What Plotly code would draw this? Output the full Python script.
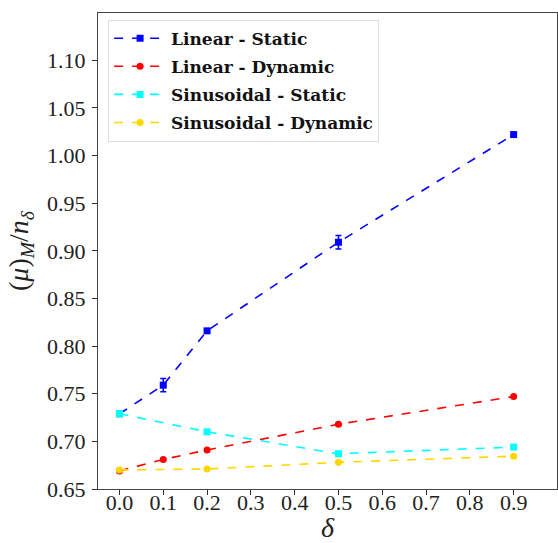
import plotly.graph_objects as go

delta = [0.0, 0.1, 0.2, 0.5, 0.9]
sin_delta = [0.0, 0.2, 0.5, 0.9]

lin_static = [0.729, 0.759, 0.816, 0.909, 1.022]
lin_static_err = [0.002, 0.007, 0.002, 0.007, 0.002]

lin_dynamic = [0.669, 0.681, 0.691, 0.718, 0.747]
lin_dynamic_err = [0.001, 0.001, 0.001, 0.001, 0.001]

sin_static = [0.729, 0.710, 0.687, 0.694]
sin_static_err = [0.003, 0.001, 0.001, 0.001]

sin_dynamic = [0.670, 0.671, 0.678, 0.6845]
sin_dynamic_err = [0.001, 0.001, 0.001, 0.001]

x_ticks = [0.0, 0.1, 0.2, 0.3, 0.4, 0.5, 0.6, 0.7, 0.8, 0.9]
y_ticks = [0.65, 0.70, 0.75, 0.80, 0.85, 0.90, 0.95, 1.00, 1.05, 1.10]

series = [
    ("<b>Linear - Static</b>", delta, lin_static, lin_static_err, "#0000FF", "square"),
    ("<b>Linear - Dynamic</b>", delta, lin_dynamic, lin_dynamic_err, "#FF0000", "circle"),
    ("<b>Sinusoidal - Static</b>", sin_delta, sin_static, sin_static_err, "#00FFFF", "square"),
    ("<b>Sinusoidal - Dynamic</b>", sin_delta, sin_dynamic, sin_dynamic_err, "#FFD700", "circle"),
]

SERIF = "Liberation Serif, DejaVu Serif, serif"
LEG = "DejaVu Serif, serif"

fig = go.Figure()
for i, (name, xs, ys, es, col, sym) in enumerate(series):
    fig.add_trace(go.Scatter(
        x=xs, y=ys, name=name, mode="lines+markers", legendgroup=f"g{i}",
        line=dict(color=col, width=1.6, dash="dash"),
        marker=dict(color=col, symbol=sym, size=7),
        error_y=dict(type="data", array=es, visible=True, color=col, thickness=1.5, width=3),
    ))

fig.update_layout(
    width=558, height=543,
    margin=dict(l=98, r=1, t=13, b=54),
    paper_bgcolor="white", plot_bgcolor="white",
    font=dict(family=SERIF, color="#222222"),
    showlegend=True,
    legend=dict(
        x=0.022, y=0.986, xanchor="left", yanchor="top",
        bgcolor="rgba(255,255,255,0.8)", bordercolor="#DDDDDD", borderwidth=1,
        font=dict(family=LEG, size=17, color="#111111"),
        tracegroupgap=3, itemwidth=52,
    ),
)
fig.update_xaxes(
    range=[-0.049, 0.999], tickvals=x_ticks, ticktext=[f"{v:.1f}" for v in x_ticks],
    ticks="outside", ticklen=5, tickcolor="#333333", tickwidth=1,
    showline=True, linecolor="#444444", linewidth=1.2, mirror=True,
    showgrid=False, zeroline=False, automargin=False, ticklabelstandoff=-12,
    tickfont=dict(family=SERIF, size=22, color="#222222"),
    title=dict(text="<i>δ</i>", font=dict(family=SERIF, size=28, color="#222222"), standoff=6),
)
fig.update_yaxes(
    range=[0.65, 1.1496], tickvals=y_ticks, ticktext=[f"{v:.2f}" for v in y_ticks],
    ticks="outside", ticklen=5, tickcolor="#333333", tickwidth=1,
    showline=True, linecolor="#444444", linewidth=1.2, mirror=True,
    showgrid=False, zeroline=False, automargin=False, ticklabelstandoff=2,
    tickfont=dict(family=SERIF, size=22, color="#222222"),
    title=dict(text="(<i>μ</i>)<sub><i>M</i></sub>/<i>n</i><sub><i>δ</i></sub>",
               font=dict(family=SERIF, size=28, color="#222222"), standoff=10),
)

fig.write_html(
    "out.html",
    config={"displayModeBar": False},
    post_script="document.body.style.margin='0';document.body.style.overflow='hidden';",
)
